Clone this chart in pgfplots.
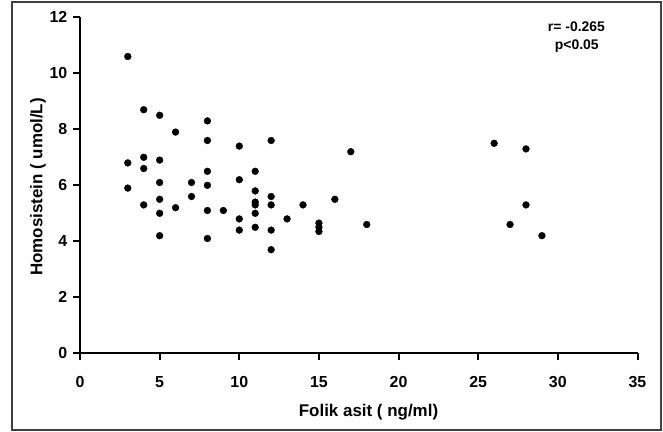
\documentclass[border=0pt]{standalone}
\usepackage{fontspec}
\setmainfont{Liberation Sans}
\usepackage{pgfplots}
\pgfplotsset{compat=1.18}

\begin{document}
\begin{tikzpicture}
\path[use as bounding box] (-80bp,-78.7bp) rectangle (583bp,353.3bp);
\draw[black!75, line width=2bp] (-67.5bp,-76.7bp) rectangle (580.5bp,351.3bp);
\begin{axis}[
  at={(0,0)}, anchor=south west,
  scale only axis,
  width=557.5bp, height=336bp,
  xmin=0, xmax=35, ymin=0, ymax=12,
  xtick={0,5,...,35}, ytick={0,2,...,12},
  axis lines=left,
  axis line style={-, line width=2bp},
  tick align=outside,
  major tick length=6.5bp,
  tick style={line width=2bp, black},
  clip=false,
  /pgf/number format/assume math mode=true,
  xticklabel={\textbf{\pgfmathprintnumber{\tick}}},
  yticklabel={\textbf{\pgfmathprintnumber{\tick}}},
  ticklabel style={font=\fontsize{16}{18}\selectfont\bfseries},
  label style={font=\fontsize{17}{19}\selectfont\bfseries},
  xticklabel style={anchor=base, yshift=-28bp},
  yticklabel style={xshift=-2.7bp},
  xlabel={Folik asit ( ng/ml)},
  ylabel={Homosistein ( umol/L)},
  xlabel style={at={(axis description cs:0.5175,-0.1887)}, anchor=base},
  ylabel style={at={(axis description cs:-0.0753,0.495)}, anchor=center},
]
\addplot[only marks, mark=*, mark size=3.4bp, black] coordinates {
(3,10.6) (3,6.8) (3,5.9)
(4,8.7) (4,7.0) (4,6.6) (4,5.3)
(5,8.5) (5,6.9) (5,6.1) (5,5.5) (5,5.0) (5,4.2)
(6,7.9) (6,5.2)
(7,6.1) (7,5.6)
(8,8.3) (8,7.6) (8,6.5) (8,6.0) (8,5.1) (8,4.1)
(9,5.1)
(10,7.4) (10,6.2) (10,4.8) (10,4.4)
(11,6.5) (11,5.8) (11,5.4) (11,5.3) (11,5.0) (11,4.5)
(12,7.6) (12,5.6) (12,5.3) (12,4.4) (12,3.7)
(13,4.8)
(14,5.3)
(15,4.65) (15,4.5) (15,4.35)
(16,5.5)
(17,7.2)
(18,4.6)
(26,7.5)
(27,4.6)
(28,7.3) (28,5.3)
(29,4.2)
};
\node[font=\fontsize{14}{16}\selectfont\bfseries, anchor=base] at (axis cs:31.17,11.49) {r= -0.265};
\node[font=\fontsize{14}{16}\selectfont\bfseries, anchor=base] at (axis cs:31.19,10.84) {p<0.05};
\end{axis}
\end{tikzpicture}
\end{document}
